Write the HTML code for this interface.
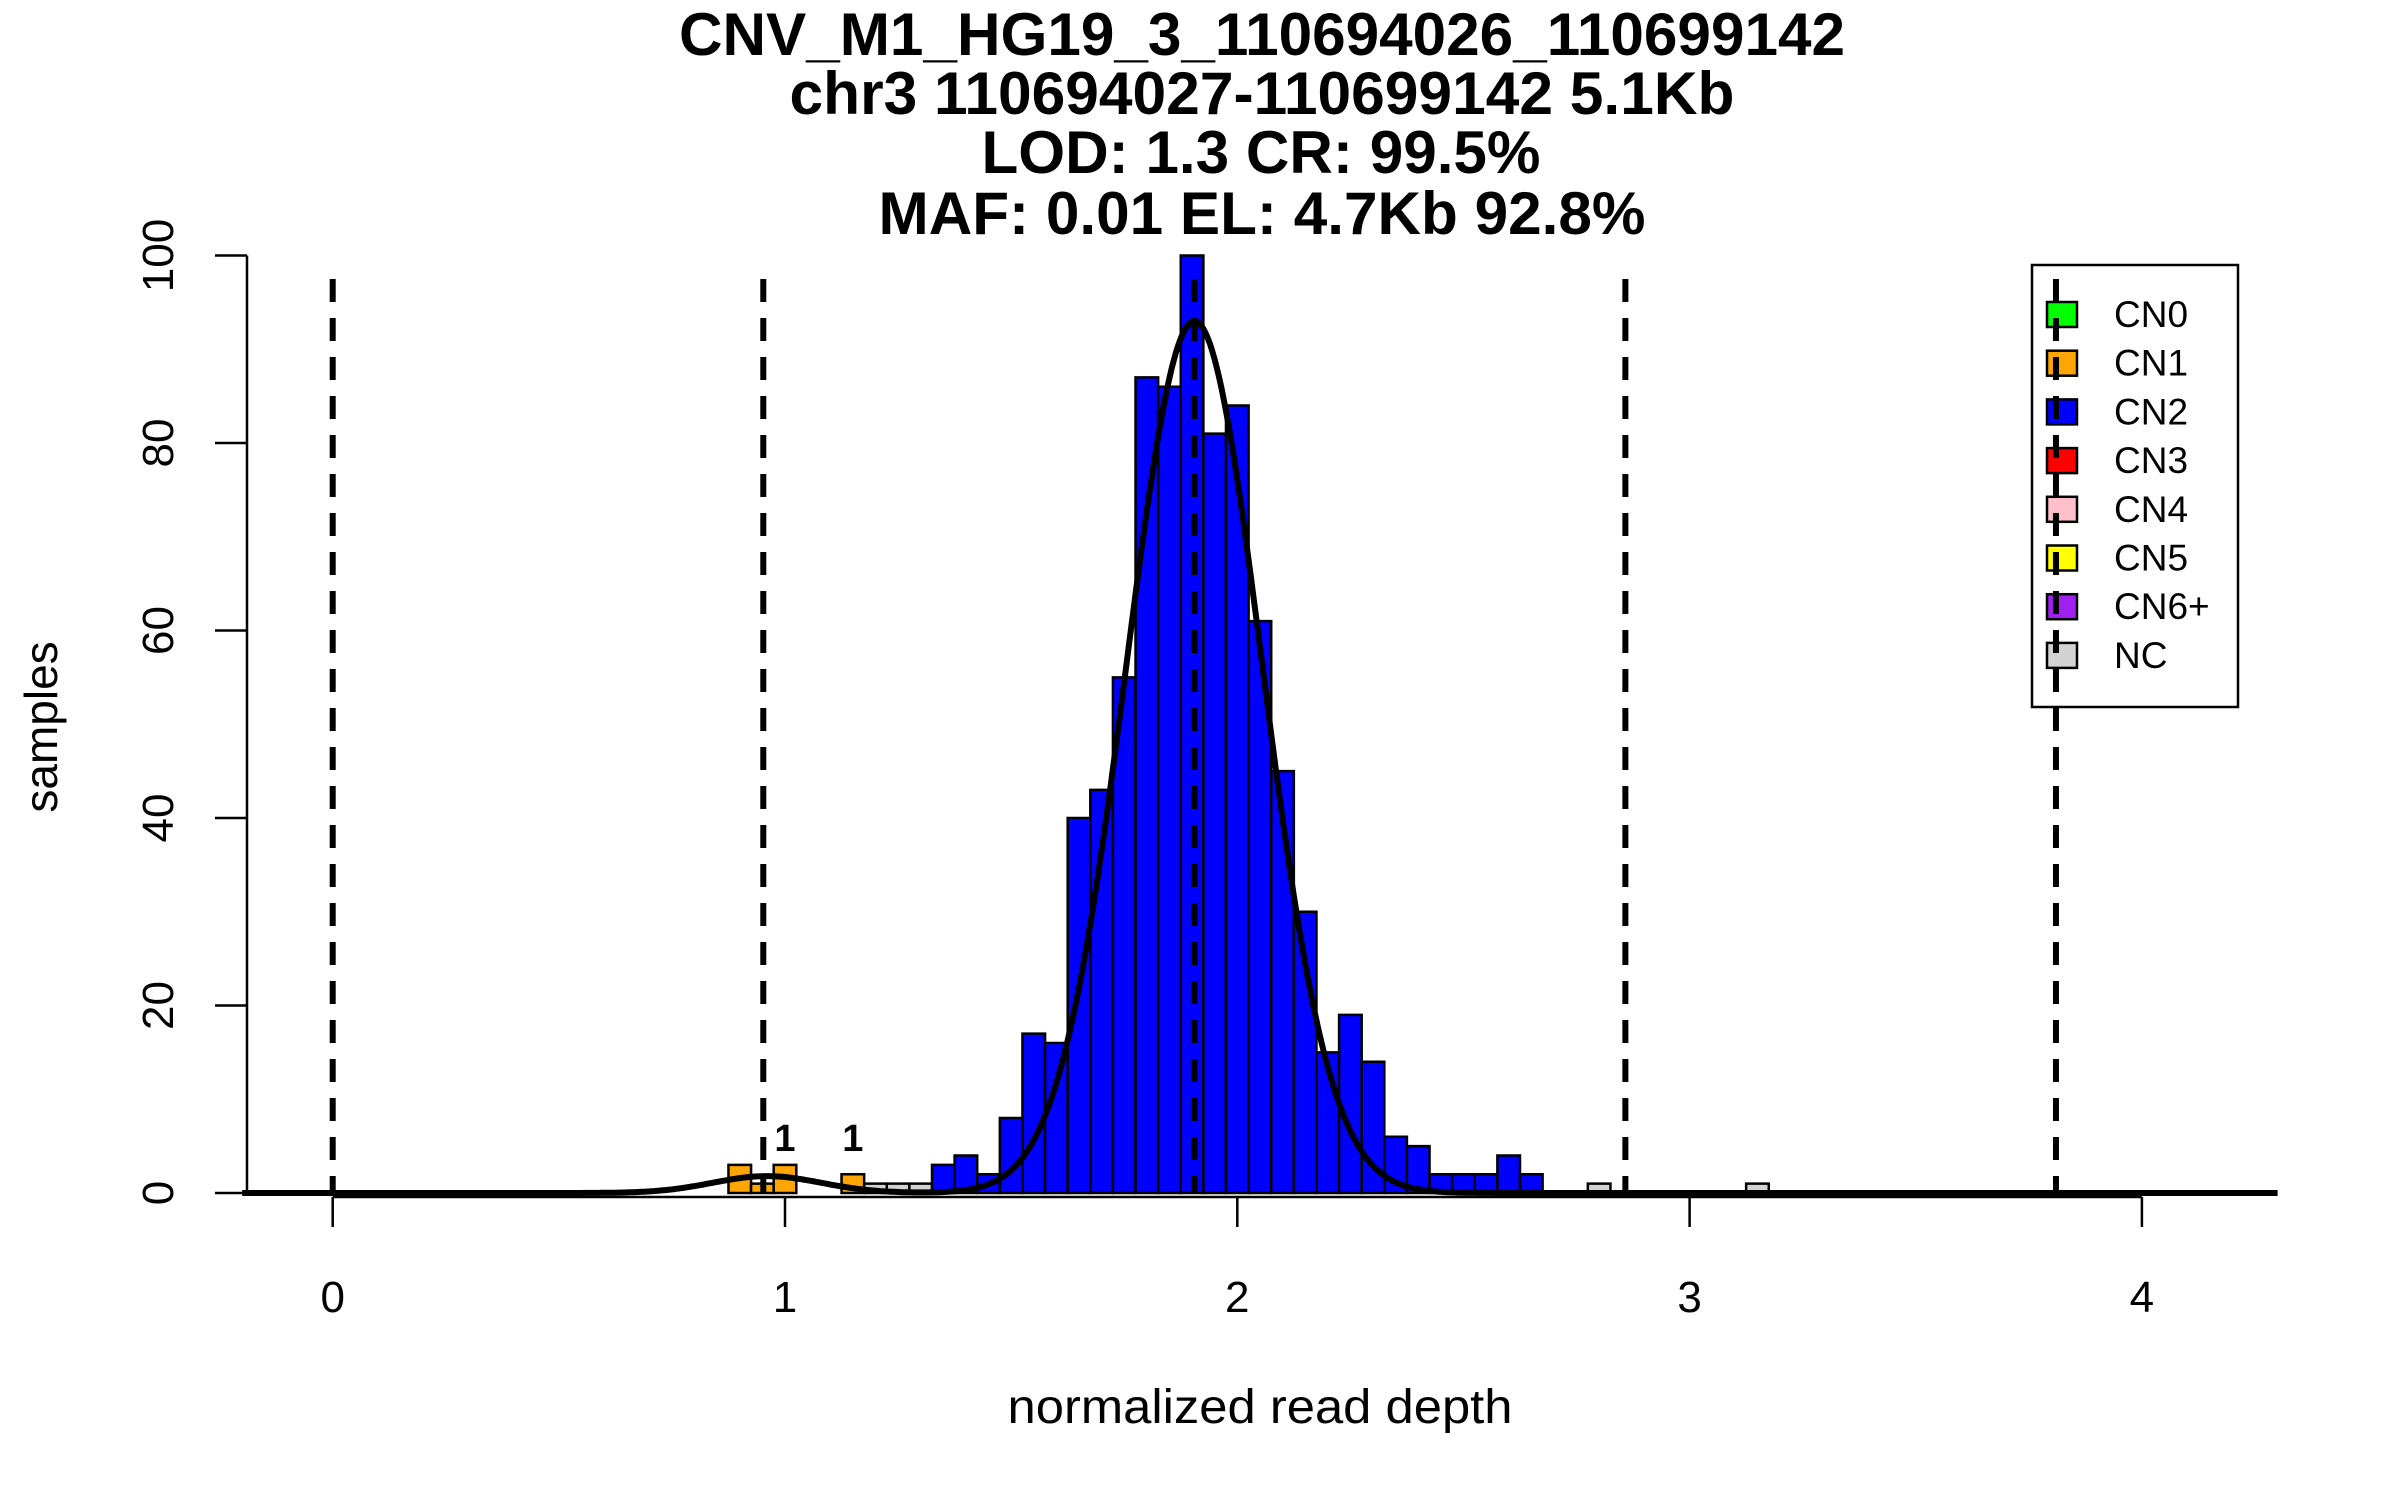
<!DOCTYPE html>
<html><head><meta charset="utf-8"><style>
html,body{margin:0;padding:0;background:#fff;}
svg{display:block;font-family:"Liberation Sans",Arial,sans-serif;}
</style></head><body>
<svg id="chart" width="2400" height="1500" viewBox="0 0 2400 1500" xmlns="http://www.w3.org/2000/svg">
<rect width="2400" height="1500" fill="#fff"/>
<g font-weight="bold" font-size="60" text-anchor="middle">
<text x="1262" y="55" textLength="1166" lengthAdjust="spacingAndGlyphs">CNV_M1_HG19_3_110694026_110699142</text>
<text x="1262" y="114" textLength="945" lengthAdjust="spacingAndGlyphs">chr3 110694027-110699142 5.1Kb</text>
<text x="1261" y="173" textLength="559" lengthAdjust="spacingAndGlyphs">LOD: 1.3 CR: 99.5%</text>
<text x="1262" y="234" textLength="767" lengthAdjust="spacingAndGlyphs">MAF: 0.01 EL: 4.7Kb 92.8%</text>
</g>
<g id="bars"></g>
<g id="curve"></g>
<g id="axes"></g>
<g id="legend"></g>
<g id="vlines"></g>
<text x="1273" y="1433" font-size="48" text-anchor="middle" textLength="505" lengthAdjust="spacingAndGlyphs" transform="translate(-13,-10)">normalized read depth</text>
<text transform="translate(57,727) rotate(-90)" font-size="46" text-anchor="middle">samples</text>
</svg>
<script>
const binStart = 0.875;
const binWidth = 0.05;
const counts = [3,1,3,0,0,2,1,1,1,3,4,2,8,17,16,40,43,55,87,86,100,81,84,61,45,30,15,19,14,6,5,2,2,2,4,2,0,0,1,0,0,0,0,0,0,1];
const binClass = ['CN1','CN1','CN1','CN1','CN1','CN1','NC','NC','NC','CN2','CN2','CN2','CN2','CN2','CN2','CN2','CN2','CN2','CN2','CN2','CN2','CN2','CN2','CN2','CN2','CN2','CN2','CN2','CN2','CN2','CN2','CN2','CN2','CN2','CN2','CN2','NC','NC','NC','NC','NC','NC','NC','NC','NC','NC'];
const countLabels = [{x:1.0,t:'1'},{x:1.15,t:'1'}];
const thresholds = [0, 0.952, 1.905, 2.858, 3.81];
const compMeans = [0.96, 1.905];
const compSds = [0.12, 0.15];
const compPeaks = [1.8, 93];
const xTicks = [0,1,2,3,4];
const yTicks = [0,20,40,60,80,100];
const legendLabels = ['CN0','CN1','CN2','CN3','CN4','CN5','CN6+','NC'];
const legendColors = ['#00ff00','#ffa500','#0000ff','#ff0000','#ffc0cb','#ffff00','#a020f0','#d3d3d3'];

const NS='http://www.w3.org/2000/svg';
const X0=332.7, XU=452.3, Y0=1193, YU=9.375;
const sx=v=>X0+v*XU, sy=v=>Y0-v*YU;
const colorOf=c=>legendColors[legendLabels.indexOf(c)];
function mk(tag,attrs,parent){const e=document.createElementNS(NS,tag);for(const k in attrs)e.setAttribute(k,attrs[k]);parent.appendChild(e);return e;}

const bars=document.getElementById('bars');
counts.forEach((c,i)=>{
  if(c<=0)return;
  const x1=sx(binStart+i*binWidth), x2=sx(binStart+(i+1)*binWidth);
  const r=mk('rect',{x:x1,y:sy(c),width:x2-x1,height:sy(0)-sy(c),fill:colorOf(binClass[i]),stroke:'#000','stroke-width':2.5},bars);
  
  
});
countLabels.forEach(l=>{
  const t=mk('text',{x:sx(l.x),y:sy(4.5),'font-size':38,'font-weight':'bold','text-anchor':'middle'},bars);
  t.textContent=l.t;
  
  
});

const curve=document.getElementById('curve');
let d='';
for(let k=0;k<=900;k++){
  const v=-0.2+k*(4.5/900);
  let y=0;
  for(let j=0;j<compMeans.length;j++)y+=compPeaks[j]*Math.exp(-0.5*Math.pow((v-compMeans[j])/compSds[j],2));
  d+=(k?'L':'M')+sx(v).toFixed(1)+','+sy(y).toFixed(1);
}
const cp=mk('path',{d:d,fill:'none',stroke:'#000','stroke-width':6},curve);



const axes=document.getElementById('axes');
mk('line',{x1:247,y1:sy(0),x2:247,y2:sy(100),stroke:'#000','stroke-width':2.5},axes);
yTicks.forEach(v=>{
  mk('line',{x1:215,y1:sy(v),x2:247,y2:sy(v),stroke:'#000','stroke-width':2.5},axes);
  const t=mk('text',{transform:`translate(173,${sy(v)}) rotate(-90)`,'font-size':44,'text-anchor':'middle'},axes);
  t.textContent=v;
  
  
});
mk('line',{x1:sx(0),y1:sy(0)+4,x2:sx(4),y2:sy(0)+4,stroke:'#000','stroke-width':2.5},axes);
xTicks.forEach(v=>{
  mk('line',{x1:sx(v),y1:sy(0)+4,x2:sx(v),y2:sy(0)+34,stroke:'#000','stroke-width':2.5},axes);
  const t=mk('text',{x:sx(v),y:1312,'font-size':44,'text-anchor':'middle'},axes);
  t.textContent=v;
  
  
});

const lg=document.getElementById('legend');
mk('rect',{x:2032,y:265,width:206,height:442,fill:'#fff',stroke:'#000','stroke-width':2.5},lg);
legendLabels.forEach((l,i)=>{
  const cy=314+i*48.7;
  const s=mk('rect',{x:2047,y:cy-12,width:30,height:25,fill:legendColors[i],stroke:'#000','stroke-width':2.5},lg);
  
  
  const t=mk('text',{x:2114,y:cy+13,'font-size':37},lg);
  t.textContent=l;
  
  
});

const vl=document.getElementById('vlines');
thresholds.forEach(v=>{
  const l=mk('line',{x1:sx(v),y1:sy(97.5),x2:sx(v),y2:sy(0),stroke:'#000','stroke-width':6,'stroke-dasharray':'23,16'},vl);
  
  
});
</script>
</body></html>
